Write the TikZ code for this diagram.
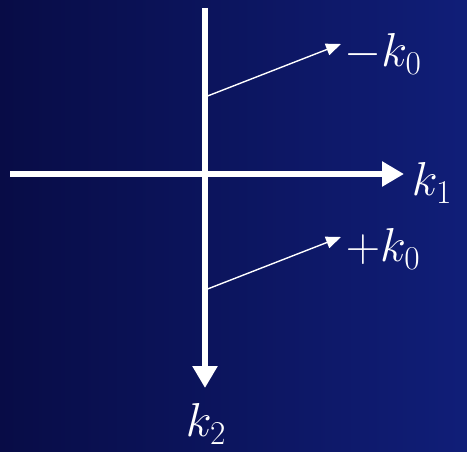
\documentclass[tikz,border=0pt]{standalone}
\usepackage{fix-cm}
\usetikzlibrary{arrows.meta}
\definecolor{bgleft}{RGB}{8,12,70}
\definecolor{bgright}{RGB}{16,30,120}
\tikzset{
  axis/.style={white,line width=6pt,-{Triangle[length=22pt,width=24pt]}},
  wave/.style={white,line width=1.4pt,-{Triangle[length=15pt,width=12pt]}},
  lbl/.style={text=white,font=\fontsize{34}{40}\selectfont,scale=1.4}
}
\begin{document}
\begin{tikzpicture}[x=1pt,y=1pt]

      % Latar belakang
      \shade[left color=bgleft,right color=bgright] (0,0) rectangle (467,451);
      \useasboundingbox (0,0) rectangle (467,451);

      % Titik ujung sumbu
      \coordinate (xa) at (10,277);
      \coordinate (xb) at (404,277);
      \coordinate (ya) at (205,443);
      \coordinate (yb) at (205,63);

      % Titik pangkal vektor gelombang
      \coordinate (P) at (205,354);
      \coordinate (Q) at (205,161);
      \coordinate (Pt) at (341,407);
      \coordinate (Qt) at (341,214);

      % Sumbu
      \draw[axis] (xa)--(xb);
      \draw[axis] (ya)--(yb);

      % Vektor gelombang
      \draw[wave] (P)--(Pt);
      \draw[wave] (Q)--(Qt);

      % Label
      \node[lbl] (mk) at (383,397) {$-k_0$};
      \node[lbl] (pk) at (383,202) {$+k_0$};
      \node[lbl] (k1) at (432,268) {$k_1$};
      \node[lbl] (k2) at (206,27) {$k_2$};

    \end{tikzpicture}
\end{document}
